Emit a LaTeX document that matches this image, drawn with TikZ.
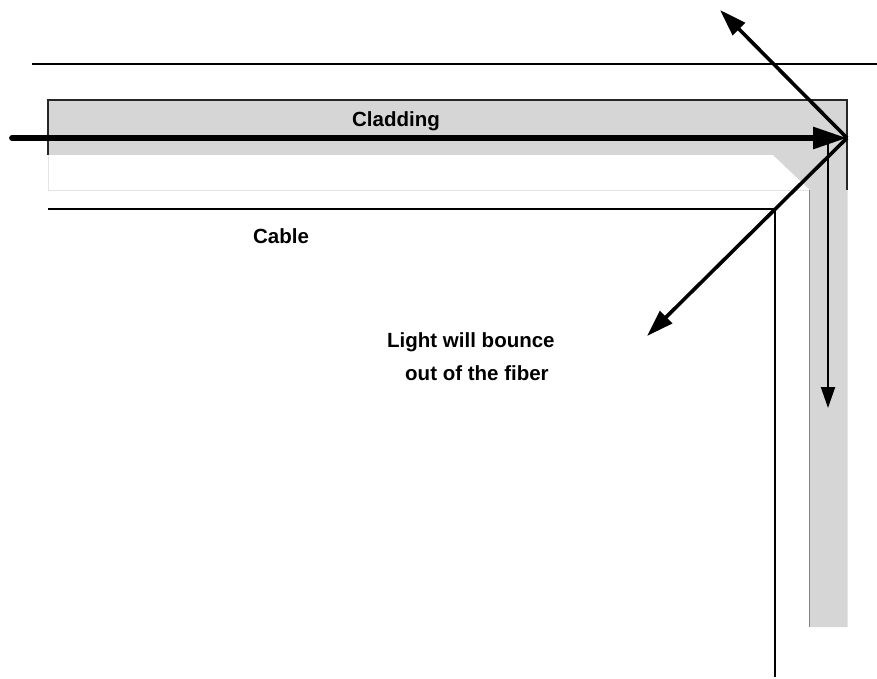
\documentclass[tikz,border=0pt]{standalone}
\usepackage{fontspec}
\setmainfont{Liberation Sans}
\usetikzlibrary{arrows.meta}
\definecolor{clad}{RGB}{214,214,214}
\definecolor{edgegray}{RGB}{130,130,130}
\definecolor{faint}{RGB}{228,228,228}
\tikzset{
  label text/.style={font=\fontsize{20.5}{24}\selectfont\bfseries, inner sep=0pt, anchor=base},
  thin rule/.style={line width=1.1pt, black},
  ray/.style={line width=3.6pt, -{Triangle[length=27pt,width=17pt]}},
  main ray/.style={line width=5.8pt, line cap=round, -{Triangle[length=34pt,width=21pt]}},
  guided ray/.style={line width=2pt, -{Triangle[length=21pt,width=14pt]}},
}
\begin{document}
\begin{tikzpicture}[x=1pt,y=-1pt]
\useasboundingbox (0,0) rectangle (877,679);

% outer sheath lines
\coordinate (topL) at (32,64);
\coordinate (topR) at (877,64);
\draw[thin rule] (topL) -- (topR);

% cladding: horizontal band turning down into the vertical column
\fill[clad] (48,100) -- (847,100) -- (847,627) -- (810,627) -- (810,190)
  -- (773,155) -- (48,155) -- cycle;
% core strip edges
\draw[faint, line width=1pt] (48,155) -- (48,190) -- (810,190);
% cladding borders
\draw[line width=1.1pt, black!85] (48,155) -- (48,100) -- (847,100) -- (847,190);
\draw[edgegray, line width=1pt] (809.5,190) -- (809.5,627);
\draw[faint, line width=1pt] (847,190) -- (847,627);

% cable jacket line turning the corner
\coordinate (cabL) at (48,209);
\coordinate (cabC) at (775,209);
\coordinate (cabB) at (775,677);
\draw[thin rule] (cabL) -- (cabC) -- (cabB);

% labels
\node[label text] (clad) at (396,127) {Cladding};
\node[label text] (cable) at (281,243) {Cable};
\node[label text, anchor=base west] (bounce1) at (387,347) {Light will bounce};
\node[label text, anchor=base west] (bounce2) at (405,380) {out of the fiber};

% rays
\coordinate (src) at (12,138);
\coordinate (hit) at (847,138);
\coordinate (upOut) at (720,10);
\coordinate (downOut) at (647,336);
\coordinate (gStart) at (828,140);
\coordinate (gEnd) at (828,408);

\draw[guided ray] (gStart) -- (gEnd);
\draw[ray] (hit) -- (upOut);
\draw[ray] (hit) -- (downOut);
\draw[main ray] (src) -- (hit);
\end{tikzpicture}
\end{document}
